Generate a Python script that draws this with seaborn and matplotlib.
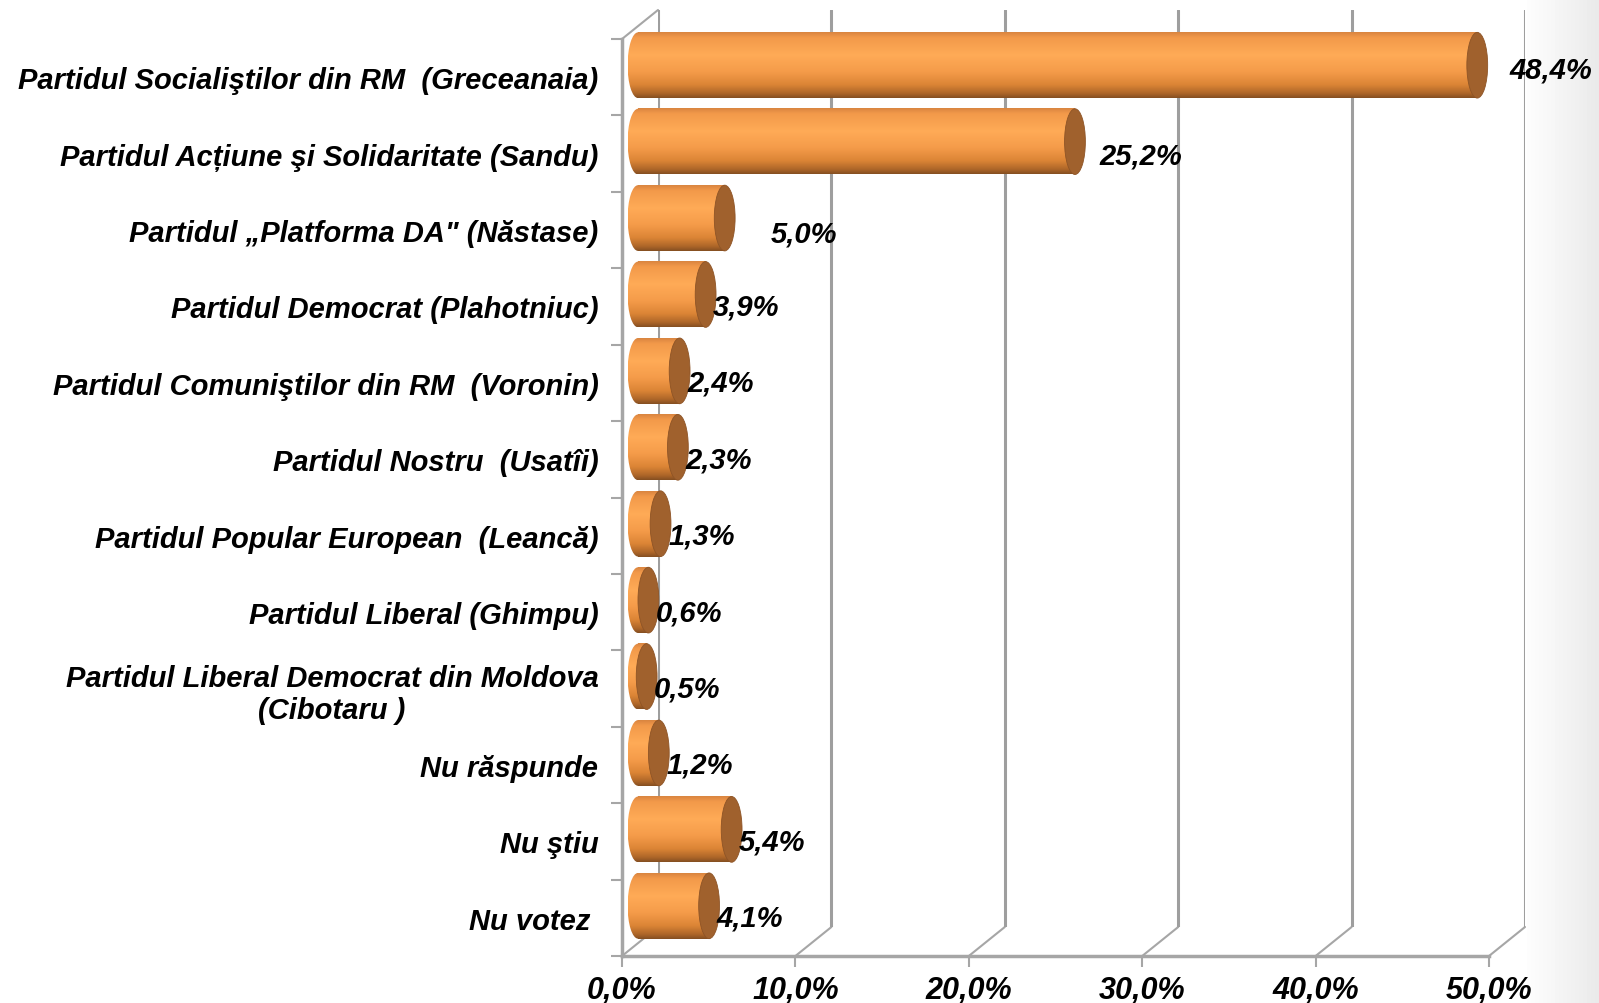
import numpy as np
import pandas as pd
import matplotlib.pyplot as plt
import seaborn as sns
from matplotlib.patches import Ellipse
from matplotlib.lines import Line2D
from matplotlib.font_manager import FontProperties

# date
categories = [
    'Partidul Socialiştilor din RM  (Greceanaia)',
    'Partidul Acțiune şi Solidaritate (Sandu)',
    'Partidul „Platforma DA" (Năstase)',
    'Partidul Democrat (Plahotniuc)',
    'Partidul Comuniştilor din RM  (Voronin)',
    'Partidul Nostru  (Usatîi)',
    'Partidul Popular European  (Leancă)',
    'Partidul Liberal (Ghimpu)',
    'Partidul Liberal Democrat din Moldova\n(Cibotaru )',
    'Nu răspunde',
    'Nu ştiu',
    'Nu votez ',
]
values = [48.4, 25.2, 5.0, 3.9, 2.4, 2.3, 1.3, 0.6, 0.5, 1.2, 5.4, 4.1]
value_labels = ['48,4%', '25,2%', '5,0%', '3,9%', '2,4%', '2,3%',
                '1,3%', '0,6%', '0,5%', '1,2%', '5,4%', '4,1%']
x_ticks = [0, 10, 20, 30, 40, 50]
x_tick_labels = ['0,0%', '10,0%', '20,0%', '30,0%', '40,0%', '50,0%']

# deplasarea etichetelor (pixeli), ca in original
label_nudge = [(25, 8), (17, -2), (38, -3)] + [(0, 0)] * 9

df = pd.DataFrame({'partid': categories, 'procent': values})

sns.set_theme(style='white')
plt.rcParams['font.family'] = ['Liberation Sans', 'DejaVu Sans']
plt.rcParams['text.color'] = 'black'
plt.rcParams['xtick.labelcolor'] = 'black'
plt.rcParams['ytick.labelcolor'] = 'black'

W, H = 1599, 1004
fig = plt.figure(figsize=(W / 100, H / 100), dpi=100)


def box(x0, y_top, x1, y_bot):
    return [x0 / W, 1 - y_bot / H, (x1 - x0) / W, (y_bot - y_top) / H]


# planul din fata si adancimea 3D
fx0, fy_top, fx1, fy_bot = 622, 40, 1489, 957
dx, dy = 36, -29
mdx, mdy = 16, -12     # planul cilindrilor
sx = (fx1 - fx0) / 50  # pixeli pe procent
pad_l = 1.5            # loc pentru capatul rotunjit din stanga
n = len(categories)
grey = '#A6A6A6'

# fundal cu gradient usor in dreapta
ax_bg = fig.add_axes([0, 0, 1, 1], zorder=0)
xs = np.linspace(0, 1, 400)
shade = np.interp(xs, [0, 0.955, 1.0], [1.0, 1.0, 0.92])
bg = np.tile(shade[None, :, None], (10, 1, 3))
ax_bg.imshow(bg, extent=(0, 1, 0, 1), aspect='auto')
ax_bg.axis('off')

ax_back = fig.add_axes(box(fx0 + dx, fy_top + dy, fx1 + dx, fy_bot + dy), zorder=1)
ax_mid = fig.add_axes(box(fx0 + mdx - pad_l * sx, fy_top + mdy,
                          fx1 + mdx, fy_bot + mdy), zorder=2)
ax_front = fig.add_axes(box(fx0, fy_top, fx1, fy_bot), zorder=3)

for ax in (ax_back, ax_mid, ax_front):
    ax.set_facecolor('none')

# peretele din spate - liniile de grila
for v in x_ticks:
    ax_back.axvline(v, color='#9E9E9E', lw=2.2)
ax_back.set_xlim(0, 50)
ax_back.set_ylim(n - 0.5, -0.5)
ax_back.axis('off')

# cilindrii
sns.barplot(data=df, y='partid', x='procent', orient='h', color='#F59B48',
            saturation=1, width=0.86, ax=ax_mid)

stops = [0.0, 0.08, 0.35, 0.6, 0.8, 0.93, 1.0]
cols = np.array([[0.85, 0.52, 0.25], [0.95, 0.60, 0.29], [1.0, 0.67, 0.34],
                 [0.96, 0.61, 0.29], [0.86, 0.52, 0.21], [0.68, 0.40, 0.16],
                 [0.52, 0.31, 0.13]])
t = np.linspace(0, 1, 200)
grad = np.stack([np.interp(t, stops, cols[:, k]) for k in range(3)], axis=1)[:, None, :]

ew = 1.2  # latimea elipsei capacului
for bar in list(ax_mid.patches):
    x0, w = bar.get_x(), bar.get_width()
    y, h = bar.get_y(), bar.get_height()
    yc = y + h / 2
    bar.set_visible(False)
    left = Ellipse((x0, yc), ew, h, facecolor='none', edgecolor='none')
    ax_mid.add_patch(left)
    im = ax_mid.imshow(grad, extent=(x0 - ew / 2, x0 + ew / 2, y + h, y),
                       aspect='auto', interpolation='bilinear', zorder=2)
    im.set_clip_path(left)
    ax_mid.imshow(grad, extent=(x0, x0 + w, y + h, y), aspect='auto',
                  interpolation='bilinear', zorder=2)
    ax_mid.add_patch(Ellipse((x0 + w, yc), ew, h, facecolor='#A0612D',
                             edgecolor='#8E5426', lw=0.6, zorder=3))

ax_mid.set_xlim(-pad_l, 50)
ax_mid.set_ylim(n - 0.5, -0.5)
ax_mid.axis('off')

# planul din fata: axe, etichete
ax_front.set_xlim(0, 50)
ax_front.set_ylim(n - 0.5, -0.5)
for s in ('top', 'right'):
    ax_front.spines[s].set_visible(False)
for s in ('left', 'bottom'):
    ax_front.spines[s].set_color(grey)
    ax_front.spines[s].set_linewidth(2.5)

tick_font = FontProperties(family=['Liberation Sans Narrow', 'Liberation Sans'],
                           weight='bold', style='italic', size=22)
ax_front.set_xticks(x_ticks)
ax_front.set_xticklabels(x_tick_labels, fontproperties=tick_font, color='black')
ax_front.tick_params(axis='x', length=8, width=1.5, color=grey, pad=6,
                     bottom=True, direction='out')

ax_front.set_yticks(range(n))
ax_front.set_yticklabels(categories, fontsize=21, fontweight='bold',
                         fontstyle='italic', color='black')
for lbl in ax_front.get_yticklabels():
    lbl.set_multialignment('center')
ax_front.set_yticks(np.arange(-0.5, n, 1), minor=True)
ax_front.tick_params(axis='y', which='major', length=0, pad=17, left=False)
ax_front.tick_params(axis='y', which='minor', length=8, width=1.5, color=grey,
                     left=True, direction='out')
ax_front.set_xlabel('')
ax_front.set_ylabel('')

for i, (v, lab) in enumerate(zip(values, value_labels)):
    ax_front.annotate(lab, xy=(v + 1.36, i), xytext=label_nudge[i],
                      textcoords='offset pixels', ha='left', va='center',
                      fontsize=21, fontweight='bold', fontstyle='italic',
                      color='black')

# diagonalele podelei si a peretelui stang
to_fig = fig.transFigure.inverted()
for v in x_ticks:
    p0 = to_fig.transform(ax_front.transData.transform((v, n - 0.5)))
    p1 = to_fig.transform(ax_back.transData.transform((v, n - 0.5)))
    fig.add_artist(Line2D([p0[0], p1[0]], [p0[1], p1[1]], color=grey, lw=1.5,
                          transform=fig.transFigure, zorder=1))
p0 = to_fig.transform(ax_front.transData.transform((0, -0.5)))
p1 = to_fig.transform(ax_back.transData.transform((0, -0.5)))
fig.add_artist(Line2D([p0[0], p1[0]], [p0[1], p1[1]], color=grey, lw=1.5,
                      transform=fig.transFigure, zorder=1))

plt.savefig('out.png', dpi=100)
